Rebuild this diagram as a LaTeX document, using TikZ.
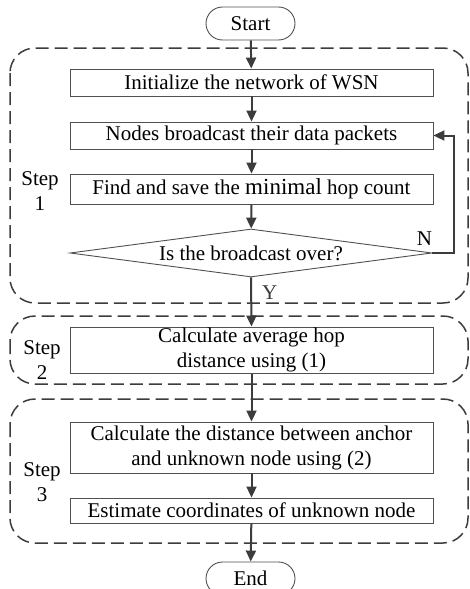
\documentclass[tikz,border=0pt]{standalone}
\usepackage{fontspec}
\setmainfont{Liberation Serif}
\usetikzlibrary{arrows.meta, positioning, shapes.geometric, shapes.misc}
\definecolor{linegray}{HTML}{3C3C3C}
\definecolor{boxgray}{HTML}{505050}

\begin{document}
\begin{tikzpicture}[
        x=1pt, y=1pt,
        every node/.style={font=\fontsize{21}{25}\selectfont},
        process/.style={rectangle, draw=boxgray, line width=0.9pt, align=center, minimum width=363pt, minimum height=27pt, inner sep=1pt},
        terminal/.style={rounded rectangle, draw=boxgray, line width=0.9pt, minimum width=91pt, minimum height=33pt, inner sep=1pt},
        decision/.style={diamond, draw=boxgray, line width=0.9pt, aspect=7.5, inner sep=0pt, minimum width=362pt, minimum height=48pt},
        group/.style={draw=linegray, line width=1.5pt, dash pattern=on 13pt off 6pt, rounded corners=25pt},
        steplabel/.style={align=center, inner sep=0pt},
        arrow/.style={-{Triangle[length=11pt, width=10pt]}, line width=2pt, linegray}
        ]

        \useasboundingbox (0,0) rectangle (470,-589);

        % Dashed groups
        \draw [group] (10,-48) rectangle (468,-303);
        \draw [group] (10,-316) rectangle (468,-384);
        \draw [group] (10,-399) rectangle (468,-543);

        % Nodes
        \node (start) [terminal] at (250.5,-23.5) {Start};
        \node (init) [process] at (251.5,-82.5) {Initialize the network of WSN};
        \node (broadcast) [process] at (251.5,-135.5) {Nodes broadcast their data packets};
        \node (findhop) [process, minimum height=30pt] at (251.5,-189) {Find and save the {\fontsize{23}{25}\selectfont minimal} hop count};
        \node (isover) [decision] at (251,-253) {Is the broadcast over?};
        \node (avghop) [process, minimum height=46pt] at (251.5,-350) {Calculate average hop\\distance using (1)};
        \node (distance) [process, minimum height=51pt] at (251.5,-447.5) {Calculate the distance between anchor\\and unknown node using (2)};
        \node (estimate) [process, minimum height=25pt] at (251.5,-510.5) {Estimate coordinates of unknown node};
        \node (end) [terminal] at (250.5,-578.5) {End};

        % Step labels
        \node (step1) [steplabel] at (40,-191) {Step\\1};
        \node (step2) [steplabel] at (42,-360) {Step\\2};
        \node (step3) [steplabel] at (42,-482) {Step\\3};

        % Arrows
        \draw [arrow] (start) -- (init);
        \draw [arrow] (init) -- (broadcast);
        \draw [arrow] (broadcast) -- (findhop);
        \draw [arrow] (findhop) -- (isover);
        \draw [arrow] (isover.south) -- node[pos=0.3, right, inner sep=1pt, xshift=9pt] {Y} (avghop.north);
        \draw [arrow] (isover.east) -- ++(22,0) |- (broadcast.east);
        \node (nlabel) [above left=4pt and -3pt of isover.east] {N};
        \draw [arrow] (avghop) -- (distance);
        \draw [arrow] (distance) -- (estimate);
        \draw [arrow] (estimate) -- (end);

    \end{tikzpicture}
\end{document}
